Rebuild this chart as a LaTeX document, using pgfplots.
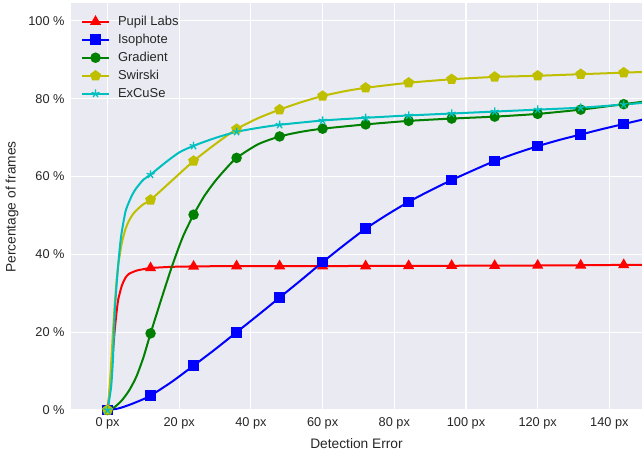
\documentclass[border=0pt]{standalone}
\usepackage{fontspec}
\setmainfont{Liberation Sans}
\usepackage{pgfplots}
\pgfplotsset{compat=1.18}
\usetikzlibrary{plotmarks}

\definecolor{bgc}{HTML}{EAEAF2}
\definecolor{txt}{HTML}{262626}
\definecolor{cR}{rgb}{1,0,0}
\definecolor{cB}{rgb}{0,0,1}
\definecolor{cG}{rgb}{0,0.5,0}
\definecolor{cY}{rgb}{0.75,0.75,0}
\definecolor{cC}{rgb}{0,0.75,0.75}

\pgfplotsset{
  ln/.style={no marks, line width=2bp, smooth, tension=0.4, forget plot},
  mk/.style={only marks, line width=2bp,
    legend image code/.code={\draw[mark repeat=2,mark phase=2,##1,sharp plot]
      plot coordinates {(0bp,0bp)(13.5bp,0bp)(27bp,0bp)};
      \path (33bp,0bp);}},
}

\begin{document}
\begin{tikzpicture}
\begin{axis}[
  scale only axis, width=571bp, height=408bp,
  xmin=-10.2, xmax=149.1, ymin=-0.25, ymax=104.6,
  axis background/.style={fill=bgc},
  axis line style={draw=none},
  tick style={draw=none},
  grid=major, major grid style={white, line width=1.1bp},
  xtick={0,20,...,140}, ytick={0,20,...,100},
  /pgf/number format/assume math mode=true,
  xticklabel={\pgfmathprintnumber{\tick} px},
  yticklabel={\pgfmathprintnumber{\tick} \%},
  tick label style={font=\fontsize{12.8}{15}\selectfont, text=txt},
  xticklabel style={yshift=-3bp},
  yticklabel style={xshift=-3bp},
  every axis x label/.style={at={(axis description cs:0.5,0)}, anchor=center, yshift=-33bp},
  every axis y label/.style={at={(axis description cs:0,0.5)}, rotate=90, anchor=center, yshift=59bp},
  label style={font=\fontsize{13.8}{16}\selectfont, text=txt},
  xlabel={Detection Error},
  ylabel={Percentage of frames},
  legend style={draw=none, fill=none, at={(axis description cs:0.012,0.978)}, anchor=north west,
    font=\fontsize{13}{15}\selectfont, text=txt, row sep=3.2bp},
  legend cell align=left,
]
% Pupil Labs
\addplot[ln, cR] coordinates {(0,0)(0.5,4)(1,9)(1.5,15)(2,20.5)(2.5,25)(3,28.5)(4,32)(5,34)(6,35)(8,35.8)(10,36.2)(12,36.5)(18,36.8)(24,36.9)(36,37.0)(60,37.0)(84,37.05)(108,37.1)(132,37.2)(144,37.3)(150,37.3)};
\addplot[mk, cR, mark=triangle*, mark size=4.5bp] coordinates {(0,0)(12,36.5)(24,36.9)(36,37.0)(48,37.0)(60,37.0)(72,37.0)(84,37.05)(96,37.1)(108,37.1)(120,37.15)(132,37.2)(144,37.3)};
\addlegendentry{Pupil Labs}
% Isophote
\addplot[ln, cB] coordinates {(0,0)(3,0.4)(6,1.3)(9,2.4)(12,3.7)(18,7.3)(24,11.4)(30,15.6)(36,20.0)(42,24.4)(48,28.9)(54,33.4)(60,38.0)(66,42.4)(72,46.6)(78,50.2)(84,53.5)(90,56.4)(96,59.1)(102,61.6)(108,64.0)(114,66.0)(120,67.8)(126,69.4)(132,70.8)(138,72.2)(144,73.5)(150,74.8)};
\addplot[mk, cB, mark=square*, mark size=4.3bp] coordinates {(0,0)(12,3.7)(24,11.4)(36,20.0)(48,28.9)(60,38.0)(72,46.6)(84,53.5)(96,59.1)(108,64.0)(120,67.8)(132,70.8)(144,73.5)};
\addlegendentry{Isophote}
% Gradient
\addplot[ln, cG] coordinates {(0,0)(2,0.8)(4,2.5)(6,5)(8,8.5)(10,13.5)(12,19.7)(15,28.5)(18,37)(21,44.5)(24,50.2)(27,55)(30,58.8)(33,62)(36,64.8)(42,68.3)(48,70.3)(54,71.5)(60,72.3)(72,73.4)(84,74.3)(96,74.9)(108,75.4)(120,76.1)(132,77.2)(144,78.6)(150,79.3)};
\addplot[mk, cG, mark=*, mark size=4.2bp] coordinates {(0,0)(12,19.7)(24,50.2)(36,64.8)(48,70.3)(60,72.3)(72,73.4)(84,74.3)(96,74.9)(108,75.4)(120,76.1)(132,77.2)(144,78.6)};
\addlegendentry{Gradient}
% Swirski
\addplot[ln, cY] coordinates {(0,0)(0.5,5)(1,12)(1.5,20)(2,27)(2.5,33)(3,37.5)(4,43)(5,46.5)(6,48.7)(7,50.2)(8,51.3)(10,52.9)(12,54.0)(18,59.0)(24,64.0)(30,68.3)(36,72.2)(42,75)(48,77.2)(54,79.1)(60,80.7)(66,81.9)(72,82.8)(84,84.1)(96,85.0)(108,85.6)(120,85.9)(132,86.3)(144,86.7)(150,86.9)};
\addplot[mk, cY, mark=pentagon*, mark size=4.5bp] coordinates {(0,0)(12,54.0)(24,64.0)(36,72.2)(48,77.2)(60,80.7)(72,82.8)(84,84.1)(96,85.0)(108,85.6)(120,85.9)(132,86.3)(144,86.7)};
\addlegendentry{Swirski}
% ExCuSe
\addplot[ln, cC] coordinates {(0,0)(1,6)(1.5,13)(2,25)(2.5,32)(3,37.5)(3.5,42.5)(4,46)(5,51)(6,53.5)(7,55.5)(8,57)(10,59.2)(12,60.5)(16,63.5)(20,66.2)(24,67.9)(30,69.9)(36,71.5)(42,72.5)(48,73.3)(60,74.4)(72,75.1)(84,75.7)(96,76.2)(108,76.7)(120,77.2)(132,77.7)(144,78.5)(150,79.0)};
\addplot[mk, cC, mark=star, mark size=4.2bp, mark options={line width=1.3bp}] coordinates {(0,0)(12,60.5)(24,67.9)(36,71.5)(48,73.3)(60,74.4)(72,75.1)(84,75.7)(96,76.2)(108,76.7)(120,77.2)(132,77.7)(144,78.5)};
\addlegendentry{ExCuSe}
\end{axis}
\pgfresetboundingbox
\path (current axis.south west) ++(-71bp,-45bp) coordinate (bl);
\path (current axis.north east) ++(0bp,3bp) coordinate (tr);
\useasboundingbox (bl) rectangle (tr);
\end{tikzpicture}
\end{document}
